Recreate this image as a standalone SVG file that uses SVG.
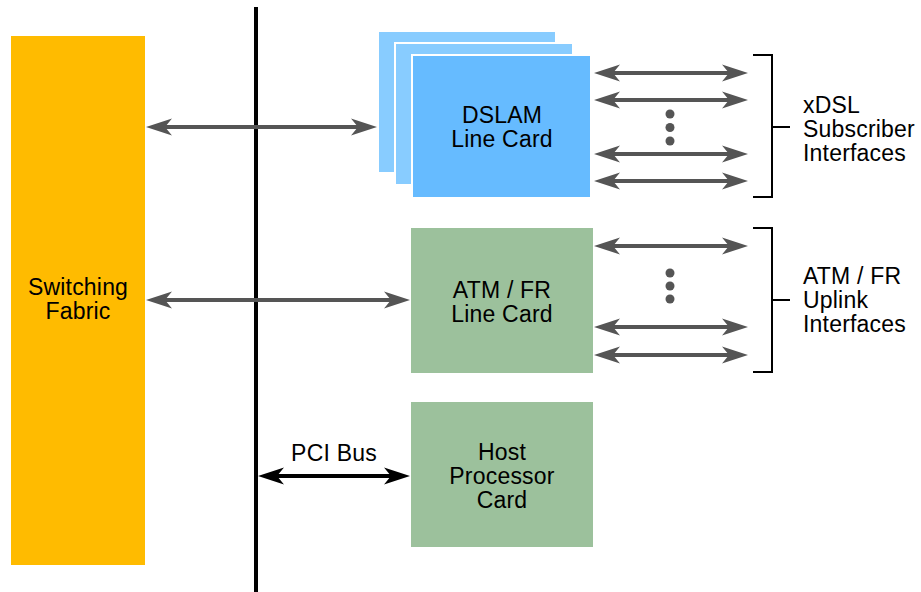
<svg xmlns="http://www.w3.org/2000/svg" width="921" height="592" viewBox="0 0 921 592">
  <defs>
    <style>
      text { font-family: "Liberation Sans", Arial, Helvetica, sans-serif; font-size: 23px; letter-spacing: 0.2px; fill: #000; }
      .mid { text-anchor: middle; }
      .link { stroke: #555555; stroke-width: 4; fill: none; marker-start: url(#head); marker-end: url(#head); }
      .bus { stroke: #000; stroke-width: 4; fill: none; marker-start: url(#headBlack); marker-end: url(#headBlack); }
      .bracket { stroke: #000; stroke-width: 2; fill: none; }
      .dot { fill: #555555; }
      .card-blue { fill: #66BBFF; stroke: #fff; stroke-width: 2; }
      .card-blue-back { fill: #88CCFF; stroke: #fff; stroke-width: 2; }
      .card-green { fill: #9CC19C; }
    </style>
    <marker id="head" viewBox="0 -9 26 18" refX="7" refY="0" markerWidth="26" markerHeight="18" markerUnits="userSpaceOnUse" orient="auto-start-reverse">
      <path d="M0,-8.5 L26,0 L0,8.5 L7,0 Z" fill="#555555"/>
    </marker>
    <marker id="headBlack" viewBox="0 -9 26 18" refX="7" refY="0" markerWidth="26" markerHeight="18" markerUnits="userSpaceOnUse" orient="auto-start-reverse">
      <path d="M0,-8.5 L26,0 L0,8.5 L7,0 Z" fill="#000"/>
    </marker>
  </defs>

  <rect width="921" height="592" fill="#fff"/>

  <!-- Switching fabric -->
  <g id="switching-fabric">
    <rect x="11" y="36" width="134" height="529" fill="#FFBB00"/>
    <text class="mid" x="78" y="295">Switching</text>
    <text class="mid" x="78" y="319">Fabric</text>
  </g>

  <!-- Backplane / PCI bus line -->
  <g id="backplane">
    <rect x="254" y="7" width="4" height="585" fill="#000"/>
  </g>

  <!-- DSLAM line cards (stacked) -->
  <g id="dslam-card">
    <rect class="card-blue-back" x="378" y="31" width="178" height="142"/>
    <rect class="card-blue-back" x="395" y="43" width="178" height="142"/>
    <rect class="card-blue" x="412" y="55" width="179" height="143"/>
    <text class="mid" x="502" y="123">DSLAM</text>
    <text class="mid" x="502" y="147">Line Card</text>
  </g>

  <!-- ATM / FR line card -->
  <g id="atm-card">
    <rect class="card-green" x="411" y="228" width="182" height="145"/>
    <text class="mid" x="502" y="298">ATM / FR</text>
    <text class="mid" x="502" y="322">Line Card</text>
  </g>

  <!-- Host processor card -->
  <g id="host-card">
    <rect class="card-green" x="411" y="402" width="182" height="145"/>
    <text class="mid" x="502" y="460">Host</text>
    <text class="mid" x="502" y="484">Processor</text>
    <text class="mid" x="502" y="508">Card</text>
  </g>

  <!-- Interface groups -->
  <g id="xdsl-interfaces">
    <path class="bracket" d="M753,55 H772 V197 H753 M772,127 H790"/>
    <text x="803" y="113">xDSL</text>
    <text x="803" y="137">Subscriber</text>
    <text x="803" y="161">Interfaces</text>
  </g>

  <g id="uplink-interfaces">
    <path class="bracket" d="M753,228 H772 V372 H753 M772,300 H790"/>
    <text x="803" y="284">ATM / FR</text>
    <text x="803" y="308">Uplink</text>
    <text x="803" y="332">Interfaces</text>
  </g>

  <!-- Connectors -->
  <g id="connectors">
    <line class="link" x1="165" y1="127" x2="358" y2="127"/>
    <line class="link" x1="165" y1="300" x2="391" y2="300"/>

    <line class="link" x1="613" y1="73" x2="729" y2="73"/>
    <line class="link" x1="613" y1="100" x2="729" y2="100"/>
    <line class="link" x1="613" y1="154" x2="729" y2="154"/>
    <line class="link" x1="613" y1="181" x2="729" y2="181"/>

    <line class="link" x1="613" y1="246" x2="729" y2="246"/>
    <line class="link" x1="613" y1="327" x2="729" y2="327"/>
    <line class="link" x1="613" y1="355" x2="729" y2="355"/>

    <line class="bus" x1="277" y1="476" x2="391" y2="476"/>
    <text class="mid" x="334" y="461">PCI Bus</text>

    <circle class="dot" cx="670" cy="114" r="4.5"/>
    <circle class="dot" cx="670" cy="127.5" r="4.5"/>
    <circle class="dot" cx="670" cy="141" r="4.5"/>

    <circle class="dot" cx="670" cy="273" r="4.5"/>
    <circle class="dot" cx="670" cy="286" r="4.5"/>
    <circle class="dot" cx="670" cy="299" r="4.5"/>
  </g>
</svg>
